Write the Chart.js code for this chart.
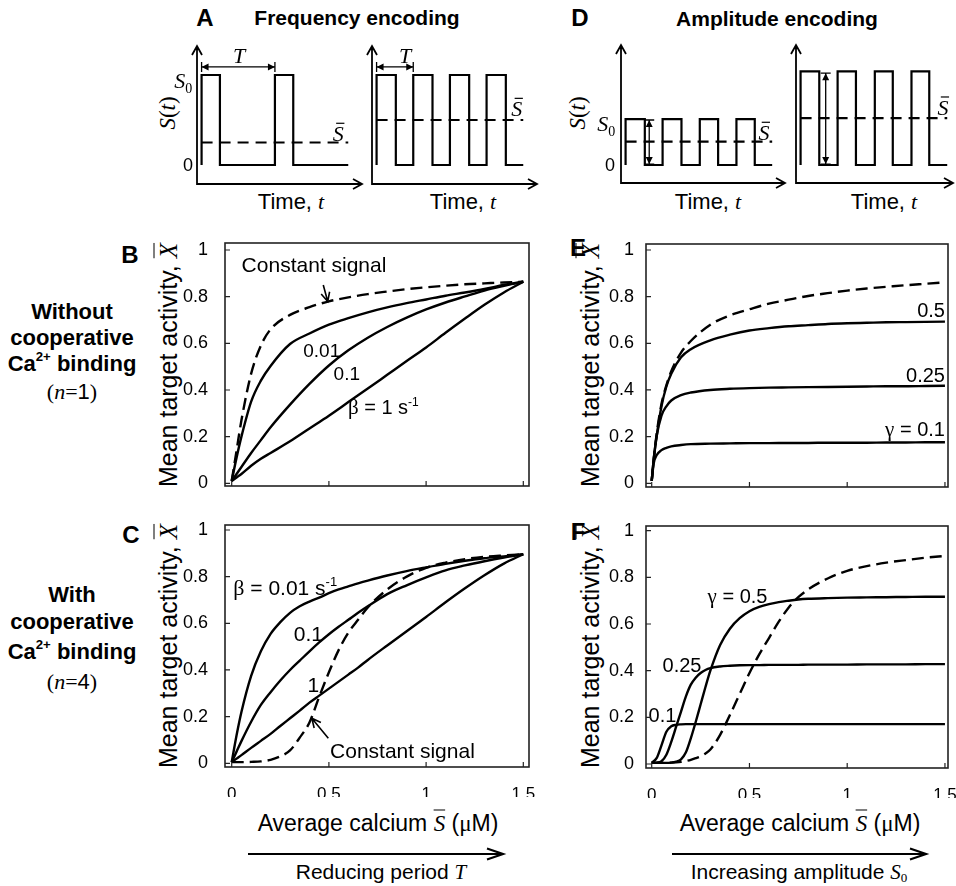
<!DOCTYPE html>
<html>
<head>
<meta charset="utf-8">
<title>Frequency and amplitude encoding</title>
<script src="https://cdn.jsdelivr.net/npm/chart.js@4.4.1/dist/chart.umd.min.js"></script>
<style>
  html, body { margin: 0; padding: 0; background: #fff; }
  body { position: relative; width: 956px; height: 886px; overflow: hidden;
         font-family: 'Liberation Sans', Arial, sans-serif; color: #000; }
  canvas { position: absolute; }
  .t { position: absolute; white-space: nowrap; line-height: 1; transform: translate(-50%, -50%); }
  .rot { transform: translate(-50%, -50%) rotate(-90deg); }
  .b { font-weight: bold; }
  .it { font-family: 'Liberation Serif', 'Times New Roman', serif; font-style: italic; }
  .ser { font-family: 'Liberation Serif', 'Times New Roman', serif; }
  .ob { text-decoration: overline; text-decoration-thickness: 1px; }
  sup { font-size: 60%; vertical-align: 0.75em; line-height: 0; }
  sub { font-size: 62%; vertical-align: -0.25em; line-height: 0; }
</style>
</head>
<body>

<!-- panel letters and column titles -->
<div class="t b" style="left:205px;top:18px;font-size:24px">A</div>
<div class="t b" style="left:357px;top:17px;font-size:21px">Frequency encoding</div>
<div class="t b" style="left:580px;top:18px;font-size:24px">D</div>
<div class="t b" style="left:777px;top:18px;font-size:21px">Amplitude encoding</div>
<div class="t b" style="left:130px;top:255px;font-size:24px">B</div>
<div class="t b" style="left:131px;top:535px;font-size:24px">C</div>
<div class="t b" style="left:578px;top:248px;font-size:24px">E</div>
<div class="t b" style="left:578px;top:532px;font-size:24px">F</div>

<!-- schematic axis labels -->
<div class="t rot" style="left:167px;top:113px;font-size:23px"><span class="it">S</span><span class="ser">(</span><span class="it">t</span><span class="ser">)</span></div>
<div class="t rot" style="left:577px;top:113px;font-size:23px"><span class="it">S</span><span class="ser">(</span><span class="it">t</span><span class="ser">)</span></div>
<div class="t" style="left:291px;top:202px;font-size:22px">Time, <span class="it">t</span></div>
<div class="t" style="left:463px;top:202px;font-size:22px">Time, <span class="it">t</span></div>
<div class="t" style="left:708px;top:202px;font-size:22px">Time, <span class="it">t</span></div>
<div class="t" style="left:884px;top:202px;font-size:22px">Time, <span class="it">t</span></div>

<!-- row labels -->
<div class="t b" style="left:72px;top:312px;font-size:22px">Without</div>
<div class="t b" style="left:72px;top:338px;font-size:22px">cooperative</div>
<div class="t b" style="left:72px;top:364px;font-size:22px">Ca<sup>2+</sup> binding</div>
<div class="t" style="left:72px;top:392px;font-size:22px"><span class="ser">(</span><span class="it">n</span><span class="ser">=</span>1<span class="ser">)</span></div>
<div class="t b" style="left:72px;top:595px;font-size:22px">With</div>
<div class="t b" style="left:72px;top:622px;font-size:22px">cooperative</div>
<div class="t b" style="left:72px;top:652px;font-size:22px">Ca<sup>2+</sup> binding</div>
<div class="t" style="left:72px;top:682px;font-size:22px"><span class="ser">(</span><span class="it">n</span><span class="ser">=</span>4<span class="ser">)</span></div>

<!-- result panel axis titles -->
<div class="t rot" style="left:168px;top:365px;font-size:25px">Mean target activity, <span class="it ob">X</span></div>
<div class="t rot" style="left:168px;top:646px;font-size:25px">Mean target activity, <span class="it ob">X</span></div>
<div class="t rot" style="left:590px;top:365px;font-size:25px">Mean target activity, <span class="it ob">X</span></div>
<div class="t rot" style="left:590px;top:646px;font-size:25px">Mean target activity, <span class="it ob">X</span></div>
<div class="t" style="left:378px;top:823px;font-size:23px">Average calcium <span class="it ob">S</span> (<span class="ser">μ</span>M)</div>
<div class="t" style="left:800px;top:823px;font-size:23px">Average calcium <span class="it ob">S</span> (<span class="ser">μ</span>M)</div>

<svg width="956" height="886" style="position:absolute;left:0;top:0">
  <g stroke="#000" stroke-width="2.2" fill="none">
    <line x1="248" y1="854" x2="502" y2="854"/>
    <polyline points="487,848.5 503,854 487,859.5"/>
    <line x1="672" y1="854" x2="925" y2="854"/>
    <polyline points="910,848.5 926,854 910,859.5"/>
  </g>
</svg>
<div class="t" style="left:381px;top:872px;font-size:21px">Reducing period <span class="it">T</span></div>
<div class="t" style="left:799px;top:872px;font-size:21px">Increasing amplitude <span class="it">S</span><sub class="ser">0</sub></div>

<script>
const SANS = "'Liberation Sans', Arial, sans-serif";
const SERIF = "'Liberation Serif', 'Times New Roman', serif";

// ticks shared by the four result panels
const xTicks = [0, 0.5, 1, 1.5];
const xTickLabels = ['0', '0.5', '1', '1.5'];
const yTicks = [0, 0.2, 0.4, 0.6, 0.8, 1];
const yTickLabels = ['0', '0.2', '0.4', '0.6', '0.8', '1'];

// B: frequency encoding, n = 1
const bX = [0, 0.025, 0.05, 0.1, 0.15, 0.2, 0.3, 0.4, 0.5, 0.6, 0.7, 0.8, 0.9, 1.0, 1.1, 1.2, 1.3, 1.4, 1.5];
const bConstant = [0.01, 0.14, 0.27, 0.47, 0.59, 0.66, 0.722, 0.755, 0.78, 0.797, 0.811, 0.822, 0.832, 0.84, 0.847, 0.853, 0.857, 0.861, 0.864];
const bBeta001 = [0.01, 0.11, 0.2, 0.35, 0.44, 0.503, 0.597, 0.642, 0.68, 0.708, 0.733, 0.754, 0.772, 0.788, 0.804, 0.818, 0.833, 0.85, 0.864];
const bBeta01 = [0.01, 0.04, 0.07, 0.13, 0.185, 0.24, 0.337, 0.426, 0.505, 0.57, 0.624, 0.67, 0.71, 0.745, 0.775, 0.801, 0.826, 0.846, 0.864];
const bBeta1 = [0.01, 0.025, 0.04, 0.075, 0.105, 0.13, 0.18, 0.235, 0.29, 0.348, 0.406, 0.465, 0.524, 0.582, 0.645, 0.706, 0.765, 0.818, 0.864];

// C: frequency encoding, n = 4
const cX = [0, 0.025, 0.05, 0.1, 0.15, 0.2, 0.25, 0.3, 0.35, 0.4, 0.45, 0.5, 0.55, 0.6, 0.65, 0.7, 0.8, 0.9, 1.0, 1.1, 1.2, 1.3, 1.4, 1.5];
const cConstant = [0.005, 0.005, 0.005, 0.006, 0.008, 0.015, 0.03, 0.055, 0.11, 0.175, 0.285, 0.39, 0.485, 0.56, 0.615, 0.668, 0.745, 0.8, 0.838, 0.86, 0.875, 0.885, 0.891, 0.896];
const cBeta001 = [0.005, 0.12, 0.22, 0.375, 0.48, 0.555, 0.605, 0.645, 0.673, 0.693, 0.71, 0.729, 0.745, 0.758, 0.771, 0.783, 0.805, 0.824, 0.84, 0.855, 0.868, 0.879, 0.887, 0.896];
const cBeta01 = [0.005, 0.05, 0.095, 0.178, 0.25, 0.305, 0.355, 0.4, 0.44, 0.48, 0.518, 0.553, 0.585, 0.615, 0.645, 0.673, 0.725, 0.763, 0.797, 0.827, 0.848, 0.866, 0.882, 0.896];
const cBeta1 = [0.005, 0.02, 0.035, 0.066, 0.096, 0.126, 0.16, 0.193, 0.226, 0.26, 0.29, 0.32, 0.35, 0.38, 0.41, 0.443, 0.505, 0.566, 0.627, 0.69, 0.75, 0.806, 0.856, 0.896];

// E: amplitude encoding, n = 1
const eX = [0, 0.01, 0.025, 0.05, 0.075, 0.1, 0.15, 0.2, 0.3, 0.4, 0.5, 0.6, 0.7, 0.8, 0.9, 1.0, 1.1, 1.2, 1.3, 1.4, 1.5];
const eConstant = [0.01, 0.1, 0.21, 0.34, 0.42, 0.48, 0.56, 0.61, 0.68, 0.72, 0.746, 0.77, 0.787, 0.803, 0.815, 0.826, 0.835, 0.842, 0.849, 0.855, 0.861];
const eGamma05 = [0.01, 0.1, 0.2, 0.33, 0.415, 0.47, 0.54, 0.575, 0.613, 0.637, 0.655, 0.665, 0.673, 0.678, 0.683, 0.686, 0.688, 0.69, 0.691, 0.692, 0.693];
const eGamma025 = [0.01, 0.1, 0.2, 0.29, 0.33, 0.355, 0.378, 0.389, 0.4, 0.405, 0.408, 0.41, 0.411, 0.412, 0.413, 0.414, 0.415, 0.416, 0.416, 0.417, 0.418];
const eGamma01 = [0.01, 0.085, 0.12, 0.142, 0.152, 0.158, 0.164, 0.168, 0.17, 0.171, 0.172, 0.172, 0.173, 0.173, 0.174, 0.174, 0.174, 0.175, 0.175, 0.176, 0.176];

// F: amplitude encoding, n = 4
const fX = [0, 0.025, 0.05, 0.075, 0.1, 0.125, 0.15, 0.175, 0.2, 0.225, 0.25, 0.275, 0.3, 0.35, 0.4, 0.45, 0.5, 0.55, 0.6, 0.65, 0.7, 0.75, 0.8, 0.9, 1.0, 1.1, 1.2, 1.3, 1.4, 1.5];
const fConstant = [0.005, 0.005, 0.005, 0.005, 0.006, 0.007, 0.009, 0.013, 0.018, 0.025, 0.033, 0.045, 0.062, 0.125, 0.21, 0.3, 0.39, 0.47, 0.54, 0.61, 0.67, 0.715, 0.748, 0.795, 0.828, 0.848, 0.863, 0.874, 0.884, 0.892];
const fGamma05 = [0.005, 0.005, 0.005, 0.005, 0.006, 0.01, 0.02, 0.05, 0.11, 0.18, 0.255, 0.33, 0.4, 0.51, 0.58, 0.625, 0.655, 0.673, 0.685, 0.694, 0.7, 0.705, 0.708, 0.711, 0.713, 0.714, 0.715, 0.716, 0.717, 0.717];
const fGamma025 = [0.005, 0.006, 0.012, 0.04, 0.095, 0.16, 0.225, 0.29, 0.34, 0.37, 0.39, 0.403, 0.411, 0.418, 0.421, 0.423, 0.424, 0.424, 0.425, 0.425, 0.425, 0.425, 0.426, 0.426, 0.426, 0.427, 0.427, 0.427, 0.428, 0.428];
const fGamma01 = [0.005, 0.025, 0.08, 0.138, 0.162, 0.168, 0.17, 0.171, 0.171, 0.171, 0.171, 0.171, 0.171, 0.171, 0.171, 0.171, 0.171, 0.171, 0.171, 0.171, 0.171, 0.171, 0.171, 0.171, 0.171, 0.171, 0.171, 0.171, 0.171, 0.171];

// schematic pulse trains: rise/fall times in arbitrary time units
const aLeftEdges = [0.25, 1.25, 4.25, 5.25];
const aRightEdges = [0.25, 1.3, 2.25, 3.3, 4.25, 5.3, 6.25, 7.3];
const dLeftEdges = [0.25, 1.3, 2.27, 3.3, 4.3, 5.3, 6.3, 7.3];
const dRightEdges = [0.25, 1.27, 2.27, 3.27, 4.3, 5.28, 6.3, 7.27];
const pulseEnd = 8.25;
const aLevels = { high: 1, meanLeft: 0.25, meanRight: 0.5 };
const dLevels = { highLeft: 0.51, meanLeft: 0.26, highRight: 1.04, meanRight: 0.52 };

// ---------- drawing helpers ----------
const sans = (t, size, dy) => ({ t, size, dy });
const serif = (t, size, dy) => ({ t, size, dy, serif: true });
const ital = (t, size, dy, over) => ({ t, size, dy, serif: true, it: true, over });
const fontOf = p => (p.it ? 'italic ' : '') + p.size + 'px ' + (p.serif ? SERIF : SANS);

function drawRich(ctx, parts, x, y, align) {
  const widths = parts.map(p => { ctx.font = fontOf(p); return ctx.measureText(p.t).width; });
  const total = widths.reduce((s, w) => s + w, 0);
  let cx = align === 'left' ? x : align === 'right' ? x - total : x - total / 2;
  const by = y + parts[0].size * 0.36;
  ctx.textAlign = 'left';
  ctx.textBaseline = 'alphabetic';
  parts.forEach((p, i) => {
    ctx.font = fontOf(p);
    ctx.fillText(p.t, cx, by + (p.dy || 0));
    if (p.over) {
      const oy = by - p.size * 0.8;
      ctx.beginPath();
      ctx.lineWidth = 1.2;
      ctx.moveTo(cx + widths[i] * 0.3, oy);
      ctx.lineTo(cx + widths[i] * 1.05, oy);
      ctx.stroke();
    }
    cx += widths[i];
  });
}

// open arrow head at (x2, y2)
function drawArrow(ctx, x1, y1, x2, y2) {
  const a = Math.atan2(y2 - y1, x2 - x1), L = 10, s = 0.45;
  ctx.lineWidth = 1.6;
  ctx.beginPath();
  ctx.moveTo(x1, y1); ctx.lineTo(x2, y2);
  ctx.moveTo(x2 - L * Math.cos(a - s), y2 - L * Math.sin(a - s));
  ctx.lineTo(x2, y2);
  ctx.lineTo(x2 - L * Math.cos(a + s), y2 - L * Math.sin(a + s));
  ctx.stroke();
}

// |<---->| dimension marker
function drawSpan(ctx, x1, y1, x2, y2) {
  const len = Math.hypot(x2 - x1, y2 - y1), ux = (x2 - x1) / len, uy = (y2 - y1) / len;
  const nx = -uy, ny = ux;
  ctx.lineWidth = 1.3;
  ctx.beginPath();
  ctx.moveTo(x1, y1); ctx.lineTo(x2, y2);
  ctx.moveTo(x1 + nx * 5, y1 + ny * 5); ctx.lineTo(x1 - nx * 5, y1 - ny * 5);
  ctx.moveTo(x2 + nx * 5, y2 + ny * 5); ctx.lineTo(x2 - nx * 5, y2 - ny * 5);
  ctx.stroke();
  [[x1, y1, 1], [x2, y2, -1]].forEach(([px, py, d]) => {
    ctx.beginPath();
    ctx.moveTo(px, py);
    ctx.lineTo(px + d * ux * 7 + nx * 3.5, py + d * uy * 7 + ny * 3.5);
    ctx.lineTo(px + d * ux * 7 - nx * 3.5, py + d * uy * 7 - ny * 3.5);
    ctx.closePath();
    ctx.fill();
  });
}

function notesPlugin(notes) {
  return {
    id: 'notes',
    afterDatasetsDraw(chart) {
      const { ctx, scales: { x, y } } = chart;
      const px = v => x.getPixelForValue(v), py = v => y.getPixelForValue(v);
      ctx.save();
      ctx.fillStyle = '#000';
      ctx.strokeStyle = '#000';
      notes.forEach(n => {
        if (n.arrow) drawArrow(ctx, px(n.from[0]), py(n.from[1]), px(n.to[0]), py(n.to[1]));
        else if (n.span) drawSpan(ctx, px(n.from[0]), py(n.from[1]), px(n.to[0]), py(n.to[1]));
        else drawRich(ctx, n.parts, px(n.at[0]), py(n.at[1]), n.align || 'center');
      });
      ctx.restore();
    }
  };
}

// box round the plot area with inward ticks, MATLAB style
const framePlugin = {
  id: 'frame',
  afterDraw(chart) {
    const { ctx, chartArea: a, scales: { x, y } } = chart;
    ctx.save();
    ctx.strokeStyle = '#222';
    ctx.lineWidth = 1.6;
    ctx.strokeRect(a.left, a.top, a.right - a.left, a.bottom - a.top);
    ctx.lineWidth = 1.2;
    ctx.beginPath();
    xTicks.forEach(v => { const p = x.getPixelForValue(v); ctx.moveTo(p, a.bottom); ctx.lineTo(p, a.bottom - 5); });
    yTicks.forEach(v => { const p = y.getPixelForValue(v); ctx.moveTo(a.left, p); ctx.lineTo(a.left + 5, p); });
    ctx.stroke();
    ctx.restore();
  }
};

// plain axes with arrow heads for the pulse sketches
const arrowAxesPlugin = {
  id: 'arrowAxes',
  afterDraw(chart) {
    const { ctx, chartArea: a } = chart;
    ctx.save();
    ctx.strokeStyle = '#000';
    ctx.lineWidth = 1.8;
    ctx.beginPath();
    ctx.moveTo(a.left, a.top); ctx.lineTo(a.left, a.bottom); ctx.lineTo(a.right, a.bottom);
    ctx.moveTo(a.left - 5, a.top + 9); ctx.lineTo(a.left, a.top); ctx.lineTo(a.left + 5, a.top + 9);
    ctx.moveTo(a.right - 9, a.bottom - 5); ctx.lineTo(a.right, a.bottom); ctx.lineTo(a.right - 9, a.bottom + 5);
    ctx.stroke();
    ctx.restore();
  }
};

function addCanvas(left, top, w, h) {
  const cv = document.createElement('canvas');
  cv.width = w; cv.height = h;
  cv.style.left = left + 'px'; cv.style.top = top + 'px';
  document.body.appendChild(cv);
  return cv;
}

const pts = (xs, ys) => xs.map((x, i) => ({ x, y: ys[i] }));
const solid = (xs, ys) => ({ data: pts(xs, ys), borderColor: '#000', borderWidth: 2.4, pointRadius: 0,
                             cubicInterpolationMode: 'monotone', fill: false });
const dashed = (xs, ys) => Object.assign(solid(xs, ys), { borderDash: [12, 6] });

function makePanel(area, xRange, yRange, datasets, notes, showX, yPad) {
  const m = { l: 70, r: 25, t: 25, b: 45 };
  const cv = addCanvas(area.x - m.l, area.y - m.t, area.w + m.l + m.r, area.h + m.t + m.b);
  return new Chart(cv, {
    type: 'line',
    data: { datasets },
    options: {
      responsive: false, animation: false, events: [],
      layout: { padding: { left: m.l - 50, right: m.r, top: m.t, bottom: m.b - 30 } },
      plugins: { legend: { display: false }, tooltip: { enabled: false } },
      scales: {
        x: {
          type: 'linear', min: xRange[0], max: xRange[1],
          grid: { display: false }, border: { display: false },
          afterBuildTicks: s => { s.ticks = xTicks.map(v => ({ value: v })); },
          afterFit: s => { s.height = 30; },
          ticks: { display: showX, autoSkip: false, maxRotation: 0, padding: 9, color: '#000',
                   font: { family: SANS, size: 17 }, callback: (v, i) => xTickLabels[i] }
        },
        y: {
          type: 'linear', min: yRange[0], max: yRange[1],
          grid: { display: false }, border: { display: false },
          afterBuildTicks: s => { s.ticks = yTicks.map(v => ({ value: v })); },
          afterFit: s => { s.width = 50; },
          ticks: { autoSkip: false, padding: yPad, color: '#000',
                   font: { family: SANS, size: 18 }, callback: (v, i) => yTickLabels[i] }
        }
      }
    },
    plugins: [notesPlugin(notes), framePlugin]
  });
}

function pulseTrain(edges, high) {
  const xs = [], ys = [];
  for (let i = 0; i < edges.length; i += 2) {
    xs.push(edges[i], edges[i], edges[i + 1], edges[i + 1]);
    ys.push(0, high, high, 0);
  }
  xs.push(pulseEnd); ys.push(0);
  return pts(xs, ys);
}

function makeSketch(area, margin, edges, high, mean, xMax, yRange, notes) {
  const m = margin;
  const cv = addCanvas(area.x - m.l, area.y - m.t, area.w + m.l + m.r, area.h + m.t + m.b);
  return new Chart(cv, {
    type: 'line',
    data: {
      datasets: [
        { data: pulseTrain(edges, high), borderColor: '#000', borderWidth: 2.2, pointRadius: 0, tension: 0 },
        { data: pts([edges[0], pulseEnd], [mean, mean]), borderColor: '#000', borderWidth: 2.2,
          pointRadius: 0, borderDash: [11, 7] }
      ]
    },
    options: {
      responsive: false, animation: false, events: [],
      layout: { padding: { left: m.l, right: m.r, top: m.t, bottom: m.b } },
      plugins: { legend: { display: false }, tooltip: { enabled: false } },
      scales: {
        x: { type: 'linear', display: false, min: 0, max: xMax },
        y: { type: 'linear', display: false, min: yRange[0], max: yRange[1] }
      }
    },
    plugins: [notesPlugin(notes), arrowAxesPlugin]
  });
}

// ---------- pulse sketches (A, D) ----------
const sBar = () => [ital('S', 22, 0, true)];
const sZero = [ital('S', 22), serif('0', 14, 5)];
const tLabel = [ital('T', 22)];
const ySketchA = [-0.211, 1.322];
const ySketchD = [-0.2, 1.333];
const wide = { l: 45, r: 14, t: 14, b: 12 };

makeSketch({ x: 197, y: 46, w: 165, h: 138 }, wide, aLeftEdges, aLevels.high, aLevels.meanLeft, 9, ySketchA, [
  { span: true, from: [0.25, 1.09], to: [4.25, 1.09] },
  { parts: tLabel, at: [2.3, 1.22] },
  { parts: sBar(), at: [7.71, 0.356] },
  { parts: sZero, at: [-0.75, 0.944] },
  { parts: [sans('0', 18)], at: [-0.49, 0] }
]);
makeSketch({ x: 372, y: 46, w: 165, h: 138 }, wide, aRightEdges, aLevels.high, aLevels.meanRight, 9, ySketchA, [
  { span: true, from: [0.25, 1.09], to: [2.25, 1.09] },
  { parts: tLabel, at: [1.8, 1.22] },
  { parts: sBar(), at: [7.9, 0.633] }
]);
makeSketch({ x: 621, y: 45, w: 164, h: 138 }, wide, dLeftEdges, dLevels.highLeft, dLevels.meanLeft, 8.95, ySketchD, [
  { span: true, from: [1.54, dLevels.highLeft - 0.01], to: [1.54, 0.01] },
  { parts: sBar(), at: [7.8, 0.367] },
  { parts: sZero, at: [-0.8, 0.467] },
  { parts: [sans('0', 18)], at: [-0.6, 0] }
]);
makeSketch({ x: 796, y: 45, w: 157, h: 138 }, { l: 45, r: 3, t: 14, b: 12 }, dRightEdges, dLevels.highRight, dLevels.meanRight, 8.565, ySketchD, [
  { span: true, from: [1.62, dLevels.highRight - 0.02], to: [1.62, 0.01] },
  { parts: sBar(), at: [8.02, 0.648] }
]);

// ---------- result panels (B, C, E, F) ----------
const xLeft = [-0.0345, 1.5293];
const xRight = [-0.0292, 1.5156];

makePanel({ x: 225, y: 243, w: 304, h: 243 }, xLeft, [-0.0116, 1.03],
  [solid(bX, bBeta001), solid(bX, bBeta01), solid(bX, bBeta1), dashed(bX, bConstant)],
  [
    { parts: [sans('Constant signal', 21)], at: [0.051, 0.936], align: 'left' },
    { arrow: true, from: [0.471, 0.85], to: [0.494, 0.779] },
    { parts: [sans('0.01', 19)], at: [0.463, 0.571] },
    { parts: [sans('0.1', 19)], at: [0.592, 0.471] },
    { parts: [serif('β', 21), sans(' = 1 s', 20), sans('-1', 12, -8)], at: [0.598, 0.328], align: 'left' }
  ], false, 9);

makePanel({ x: 225, y: 525, w: 304, h: 242 }, xLeft, [-0.0159, 1.0214],
  [solid(cX, cBeta001), solid(cX, cBeta01), solid(cX, cBeta1), dashed(cX, cConstant)],
  [
    { parts: [serif('β', 22), sans(' = 0.01 s', 21), sans('-1', 13, -9)], at: [0.008, 0.757], align: 'left' },
    { parts: [sans('0.1', 21)], at: [0.394, 0.557] },
    { parts: [sans('1', 21)], at: [0.42, 0.336] },
    { parts: [sans('Constant signal', 21)], at: [0.506, 0.057], align: 'left' },
    { arrow: true, from: [0.497, 0.107], to: [0.412, 0.193] }
  ], true, 9);

makePanel({ x: 646, y: 244, w: 302, h: 243 }, xRight, [-0.0159, 1.0257],
  [solid(eX, eGamma05), solid(eX, eGamma025), solid(eX, eGamma01), dashed(eX, eConstant)],
  [
    { parts: [sans('0.5', 20)], at: [1.5, 0.743], align: 'right' },
    { parts: [sans('0.25', 20)], at: [1.5, 0.464], align: 'right' },
    { parts: [serif('γ', 21), sans(' = 0.1', 20)], at: [1.5, 0.236], align: 'right' }
  ], false, 4);

makePanel({ x: 646, y: 526, w: 302, h: 242 }, xRight, [-0.0171, 1.0201],
  [solid(fX, fGamma05), solid(fX, fGamma025), solid(fX, fGamma01), dashed(fX, fConstant)],
  [
    { parts: [serif('γ', 21), sans(' = 0.5', 20)], at: [0.439, 0.724] },
    { parts: [sans('0.25', 20)], at: [0.155, 0.427] },
    { parts: [sans('0.1', 20)], at: [0.055, 0.209] }
  ], true, 4);
</script>
</body>
</html>
